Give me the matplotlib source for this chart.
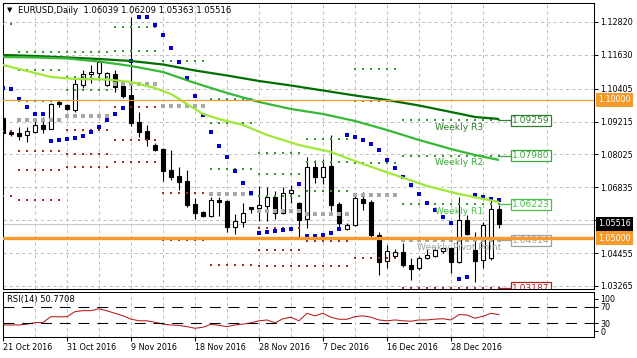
import numpy as np
import matplotlib.pyplot as plt

nan = float('nan')

# EURUSD daily bars, 21 Oct 2016 .. 6 Jan 2017
opens = [1.09344, 1.08820, 1.08812, 1.08718, 1.08848, 1.09091, 1.08946, 1.09924, 1.09815, 1.09634,
         1.10539, 1.10937, 1.10973, 1.10539, 1.10937, 1.10503, 1.10177, 1.09200, 1.08874, 1.08367,
         1.08222, 1.07462, 1.07245, 1.07064, 1.06231, 1.05942, 1.05797, 1.06376, 1.06340, 1.05399,
         1.05580, 1.06123, 1.06086, 1.06159, 1.06485, 1.05905, 1.06630, 1.06267, 1.05688, 1.07571,
         1.07209, 1.07607, 1.06231, 1.05326, 1.05471, 1.06412, 1.06304, 1.05109, 1.04168, 1.04349,
         1.04494, 1.04023, 1.03914, 1.04276, 1.04349, 1.04530, 1.04638, 1.04132, 1.05652, 1.04566,
         1.04204, 1.04276, 1.06039]
highs = [1.09417, 1.08838, 1.09019, 1.09019, 1.09272, 1.09381, 1.09887, 1.09960, 1.09851, 1.10792,
         1.11082, 1.11263, 1.11444, 1.11010, 1.11082, 1.10611, 1.12999, 1.09562, 1.09091, 1.08439,
         1.08258, 1.08186, 1.07571, 1.07462, 1.06448, 1.05978, 1.06485, 1.06485, 1.06376, 1.05869,
         1.06267, 1.06140, 1.06883, 1.06847, 1.06702, 1.06847, 1.06919, 1.06304, 1.07933, 1.07824,
         1.07860, 1.08729, 1.06304, 1.05543, 1.06521, 1.06666, 1.06376, 1.05218, 1.04747, 1.04602,
         1.04820, 1.04276, 1.04349, 1.04602, 1.04638, 1.04675, 1.04675, 1.06485, 1.05833, 1.05218,
         1.05580, 1.06448, 1.06209]
lows = [1.08620, 1.08693, 1.08548, 1.08476, 1.08801, 1.08801, 1.08930, 1.09743, 1.09634, 1.09562,
        1.10430, 1.10611, 1.10720, 1.10503, 1.10286, 1.10069, 1.09055, 1.08657, 1.08331, 1.08150,
        1.07064, 1.07100, 1.06738, 1.06123, 1.05688, 1.05761, 1.05761, 1.05797, 1.05218, 1.05145,
        1.05399, 1.05905, 1.05616, 1.05616, 1.05688, 1.05869, 1.06267, 1.05037, 1.05362, 1.06991,
        1.06955, 1.05978, 1.05362, 1.05290, 1.05435, 1.06014, 1.05000, 1.03661, 1.03914, 1.04349,
        1.03951, 1.03480, 1.03842, 1.04240, 1.04313, 1.04457, 1.03733, 1.04096, 1.05109, 1.03408,
        1.03914, 1.04204, 1.05363]
closes = [1.08801, 1.08765, 1.08693, 1.08874, 1.09091, 1.08946, 1.09851, 1.09851, 1.09670, 1.10575,
          1.10937, 1.11010, 1.11372, 1.10973, 1.10467, 1.10141, 1.09163, 1.08838, 1.08566, 1.08186,
          1.07426, 1.07209, 1.07028, 1.06195, 1.05905, 1.05797, 1.06376, 1.06304, 1.05399, 1.05616,
          1.05905, 1.06050, 1.06195, 1.06485, 1.05905, 1.06630, 1.06738, 1.05652, 1.07571, 1.07209,
          1.07571, 1.06195, 1.05543, 1.05471, 1.06448, 1.06267, 1.05109, 1.04132, 1.04530, 1.04494,
          1.04023, 1.03878, 1.04276, 1.04385, 1.04566, 1.04638, 1.04132, 1.05652, 1.05145, 1.04168,
          1.05471, 1.06050, 1.05516]

# parabolic SAR, one value per bar
sar = [1.10430, 1.10394, 1.10032, 1.09743, 1.09489, 1.09489, 1.08512, 1.08548, 1.08584, 1.08620,
       1.08693, 1.08838, 1.09019, 1.09272, 1.09489, 1.09706, 1.11408, 1.13011, 1.13011, 1.12711,
       1.12349, 1.11878, 1.11372, 1.10792, 1.10141, 1.09453, 1.08838, 1.08331, 1.07933, 1.07426,
       1.06992, 1.06629, 1.05181, 1.05218, 1.05254, 1.05290, 1.05326, 1.06955, 1.05073, 1.05073,
       1.05109, 1.05181, 1.05326, 1.08729, 1.08657, 1.08548, 1.08403, 1.08186, 1.07824, 1.07534,
       1.07209, 1.06919, 1.06593, 1.06267, 1.06014, 1.05761, 1.05543, 1.03516, 1.03589, 1.06557,
       1.06485, 1.06412, 1.06376]

# RSI(14), one value per bar
rsi = [26, 26, 26, 28, 31.6, 32, 46, 45.5, 46, 58, 60.5, 60.5, 65, 60, 54, 48, 40, 36, 36, 32.5,
       28, 26, 25, 22, 18, 20.5, 27.7, 25, 22, 26, 28, 31, 36, 38, 31, 41, 44.5, 36, 54, 48,
       54, 44.5, 39.7, 39.7, 46, 48, 44.5, 38, 36, 38, 36, 35, 38, 38, 40, 41, 38, 51, 50, 42,
       47, 54, 50.77]

# moving averages, read at some bars
ma_slow_x = [0, 4, 8, 12, 16, 20, 24, 28, 32, 36, 40, 44, 48, 52, 56, 59, 62]
ma_slow = [1.11625, 1.11589, 1.11535, 1.11480, 1.11408, 1.11281, 1.11064, 1.10883, 1.10684, 1.10521,
           1.10340, 1.10159, 1.09996, 1.09797, 1.09562, 1.09381, 1.09308]
ma_mid_x = [0, 4, 8, 12, 16, 20, 24, 28, 32, 36, 40, 44, 48, 52, 56, 59, 62]
ma_mid = [1.11553, 1.11535, 1.11499, 1.11390, 1.11227, 1.11010, 1.10611, 1.10250, 1.09924, 1.09670,
          1.09489, 1.09236, 1.08910, 1.08548, 1.08222, 1.08005, 1.07824]
ma_fast_x = [0, 3, 6, 9, 13, 16, 19, 21, 23, 25, 27, 30, 33, 37, 41, 45, 49, 53, 57, 62]
ma_fast = [1.11263, 1.11046, 1.10829, 1.10756, 1.10738, 1.10648, 1.10430, 1.10213, 1.09851, 1.09489,
           1.09308, 1.09091, 1.08729, 1.08367, 1.08114, 1.07679, 1.07281, 1.06883, 1.06593, 1.06304]

# weekly pivot levels, each segment drawn over bars seg_from..seg_to
seg_from = [0, 2, 8, 14, 20, 26, 32, 38, 44, 50]
seg_to = [1, 7, 13, 19, 25, 31, 37, 43, 49, 62]
r3 = [1.12747, 1.11734, 1.11734, nan, nan, 1.10032, 1.08077, 1.08584, 1.11118, 1.09259]
r2 = [nan, 1.11082, 1.10829, 1.12639, nan, 1.09163, 1.07318, 1.07752, 1.09960, 1.07980]
r1 = [nan, 1.09960, 1.10358, 1.11770, 1.11408, 1.07480, 1.06521, 1.06702, 1.07715, 1.06223]
pp = [nan, 1.09272, 1.09399, 1.10575, 1.09779, 1.06593, 1.05978, 1.05869, 1.06539, 1.04914]
s1 = [1.08874, 1.08150, 1.08910, 1.09743, 1.06630, 1.04964, 1.05362, 1.04892, 1.04276, 1.03187]
s2 = [1.06521, 1.07462, 1.08041, 1.08548, 1.04928, 1.04023, 1.04566, 1.03987, nan, nan]
s3 = [1.04998, 1.06376, 1.07553, 1.07752, nan, nan, 1.03987, nan, nan, nan]

level_names = ['Weekly R3', 'Weekly R2', 'Weekly R1', 'Weekly Pivot Point', 'Weekly S1']
level_values = [1.09259, 1.07980, 1.06223, 1.04914, 1.03187]
level_colors = ['#2f7f2f', '#38a838', '#48c048', '#a0a0a0', '#b02020']

hlines = [1.10000, 1.05000]
last_price = 1.05516
price_ticks = [1.12820, 1.11630, 1.10405, 1.09215, 1.08025, 1.06835, 1.05645, 1.04455, 1.03265]
date_labels = ['21 Oct 2016', '31 Oct 2016', '9 Nov 2016', '18 Nov 2016',
               '28 Nov 2016', '7 Dec 2016', '16 Dec 2016', '28 Dec 2016']

FS = 5.8
fig = plt.figure(figsize=(6.37, 3.58), dpi=100)
L, W = 2.5 / 637, 591.5 / 637
ax = fig.add_axes([L, 1 - 289 / 358, W, 286.3 / 358])
ax2 = fig.add_axes([L, 1 - 336.7 / 358, W, 45 / 358], sharex=ax)

x = np.arange(len(opens))
o = np.array(opens)
c = np.array(closes)

# grid
grid_kw = dict(color='#c0c0c0', lw=0.75, ls=(0, (3, 3)))
for a in (ax, ax2):
    a.set_xticks(np.arange(0, 63, 8))
    a.set_xticks(np.arange(4, 74, 8), minor=True)
    a.grid(True, which='both', axis='x', **grid_kw, zorder=0)
    a.set_axisbelow(True)
    for sp in a.spines.values():
        sp.set_linewidth(0.75)
ax.grid(True, which='major', axis='y', **grid_kw)

# candles
ax.axhline(last_price, color='#c8c8c8', lw=0.75, zorder=1)
ax.vlines(x, lows, highs, color='black', lw=0.8, zorder=3)
ax.bar(x, c - o, bottom=o, width=0.62, color=np.where(c >= o, 'white', 'black'),
       edgecolor='black', linewidth=0.8, zorder=4)

# weekly pivot dots
dot_sets = [(r3, '#2e9a2e', 2.2), (r2, '#2e9a2e', 2.2), (r1, '#2e9a2e', 2.2),
            (pp, '#a8a8a8', 7), (s1, '#a02828', 2.2), (s2, '#a02828', 2.2), (s3, '#a02828', 2.2)]
for k in range(len(seg_from)):
    xs = np.arange(seg_from[k], seg_to[k] + 1)
    for vals, col, size in dot_sets:
        if not np.isnan(vals[k]):
            ax.scatter(xs, np.full(len(xs), vals[k]), s=size, marker='s', color=col,
                       linewidths=0, zorder=5)

# parabolic SAR
ax.scatter(x, sar, s=7, marker='s', color='#0000c8', linewidths=0, zorder=6)

# moving averages
ax.plot(ma_slow_x, ma_slow, color='#006e00', lw=1.6, zorder=7, solid_capstyle='butt')
ax.plot(ma_mid_x, ma_mid, color='#35b835', lw=1.6, zorder=7, solid_capstyle='butt')
ax.plot(ma_fast_x, ma_fast, color='#9fe838', lw=1.6, zorder=7, solid_capstyle='butt')

# user lines
ax.axhline(hlines[0], color='#f39a2a', lw=0.8, zorder=8)
ax.axhline(hlines[1], color='#f39a2a', lw=2.4, zorder=8)

# current weekly levels: labels and value boxes
for k, (name, val, col) in enumerate(zip(level_names, level_values, level_colors)):
    ax.plot([62, 63.5], [val, val], color=col, lw=0.9, zorder=6)
    ax.text(63.65, val, f'{val:.5f}', fontsize=6.6, color=col, va='center', ha='left',
            clip_on=True, zorder=7,
            bbox=dict(boxstyle='square,pad=0.12', fc='white', ec=col, lw=0.9))
    if k < 4:
        ax.annotate(name, (51.75 if k == 3 else 54, val), xytext=(0, -5.2),
                    textcoords='offset points', fontsize=6.6, color=col,
                    va='center', ha='left', zorder=9)

ax.set_xlim(-0.06, 73.875)
ax.set_ylim(1.03154, 1.13518)
ax.yaxis.tick_right()
ax.set_yticks(price_ticks)
# the 1.05645 label sits under the current-price tag
ax.set_yticklabels(['' if t == 1.05645 else f'{t:.5f}' for t in price_ticks])
ax.tick_params(axis='y', length=3, width=0.75, pad=1.5, labelsize=FS, direction='out')
ax.tick_params(axis='x', which='both', length=0, labelbottom=False)

# right axis price tags
ytr = ax.get_yaxis_transform()
for v in hlines:
    ax.text(1.0068, v, f'{v:.5f}', transform=ytr, fontsize=FS, color='white', va='center',
            ha='left', bbox=dict(boxstyle='square,pad=0.3', fc='#f39a2a', ec='none'))
ax.text(1.0068, last_price, f'{last_price:.5f}', transform=ytr, fontsize=FS, color='white',
        va='center', ha='left', bbox=dict(boxstyle='square,pad=0.3', fc='black', ec='none'))

# title
ax.text(0.0076, 0.9745, '\u25bc', transform=ax.transAxes, fontsize=5, va='center', ha='left')
ax.text(0.0262, 0.9745, 'EURUSD,Daily  1.06039 1.06209 1.05363 1.05516',
        transform=ax.transAxes, fontsize=6.1, va='center', ha='left')

# RSI panel
ax2.plot(x, rsi, color='#b81818', lw=0.75)
lvl_kw = dict(color='black', lw=0.75, ls=(0, (10.5, 7.5)))
ax2.axhline(70, **lvl_kw)
ax2.axhline(30, **lvl_kw)
ax2.set_ylim(-2.3, 106.1)
ax2.yaxis.tick_right()
ax2.set_yticks([88.7, 70, 30, 11])
ax2.set_yticklabels(['100', '70', '30', '0'])
ax2.tick_params(axis='y', length=3, width=0.75, pad=1.5, labelsize=FS, direction='out')
ax2.set_xticklabels(date_labels)
for lbl in ax2.get_xticklabels():
    lbl.set_ha('left')
ax2.tick_params(axis='x', which='major', length=3, width=0.75, pad=1.5, labelsize=FS,
                direction='out')
ax2.tick_params(axis='x', which='minor', length=0)
ax2.text(0.0073, 0.816, 'RSI(14) 50.7708', transform=ax2.transAxes, fontsize=6.0,
         va='center', ha='left')

fig.savefig('out.png', dpi=100)
